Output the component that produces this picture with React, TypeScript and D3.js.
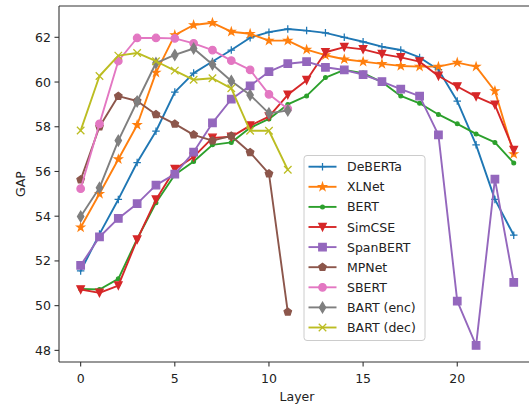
import React from "react";
import * as d3 from "d3";

const layers24 = d3.range(24);
const layers12 = d3.range(12);
const xTicks = [0, 5, 10, 15, 20];
const yTicks = [48, 50, 52, 54, 56, 58, 60, 62];

const deberta = [51.55, 53.2, 54.75, 56.4, 57.8, 59.55, 60.4, 60.92, 61.43, 61.98, 62.23, 62.37, 62.3, 62.2, 62.0, 61.8, 61.58, 61.43, 61.1, 60.55, 59.15, 57.19, 54.75, 53.15];
const xlnet = [53.5, 55.0, 56.55, 58.08, 60.42, 62.1, 62.55, 62.65, 62.25, 62.16, 61.85, 61.85, 61.45, 61.2, 61.02, 60.91, 60.81, 60.72, 60.69, 60.69, 60.87, 60.69, 59.6, 56.78];
const bert = [50.75, 50.72, 51.2, 52.98, 54.6, 55.85, 56.45, 57.19, 57.3, 57.95, 58.35, 59.0, 59.38, 60.2, 60.54, 60.4, 60.0, 59.38, 59.05, 58.55, 58.13, 57.68, 57.3, 56.38];
const simcse = [50.72, 50.57, 50.9, 52.95, 54.74, 56.1, 56.65, 57.5, 57.55, 58.05, 58.45, 59.43, 60.08, 61.33, 61.56, 61.46, 61.25, 61.1, 60.91, 60.27, 59.8, 59.35, 58.98, 56.95];
const spanbert = [51.8, 53.07, 53.9, 54.56, 55.39, 55.88, 56.87, 58.17, 59.23, 59.83, 60.46, 60.82, 60.91, 60.66, 60.54, 60.33, 60.02, 59.68, 59.37, 57.64, 50.2, 48.22, 55.66, 51.04];
const mpnet = [55.63, 58.0, 59.37, 59.15, 58.55, 58.13, 57.64, 57.38, 57.59, 56.85, 55.9, 49.72];
const sbert = [55.23, 58.13, 60.94, 61.97, 61.97, 61.95, 61.73, 61.43, 60.96, 60.54, 59.45, 58.8];
const bartEnc = [53.99, 55.27, 57.38, 59.13, 60.85, 61.21, 61.5, 60.78, 60.05, 59.42, 58.6, 58.73];
const bartDec = [57.83, 60.27, 61.18, 61.3, 60.93, 60.51, 60.1, 60.17, 59.72, 57.82, 57.82, 56.08];

const seriesNames = ["DeBERTa", "XLNet", "BERT", "SimCSE", "SpanBERT", "MPNet", "SBERT", "BART (enc)", "BART (dec)"];
const seriesValues = [deberta, xlnet, bert, simcse, spanbert, mpnet, sbert, bartEnc, bartDec];
const seriesLayers = [layers24, layers24, layers24, layers24, layers24, layers12, layers12, layers12, layers12];
const seriesColors = ["#1f77b4", "#ff7f0e", "#2ca02c", "#d62728", "#9467bd", "#8c564b", "#e377c2", "#7f7f7f", "#bcbd22"];
const seriesMarkers = ["plus", "star", "point", "tridown", "square", "pentagon", "circle", "thindiamond", "x"];

const W = 529;
const H = 405;
const L = 59;
const T = 6;
const B = 362;
const FONT = "DejaVu Sans, sans-serif";
const FS = 12.5;

const ms = 7.5;

function polygon(pts: [number, number][]) {
  return "M" + pts.map((p) => p[0].toFixed(2) + "," + p[1].toFixed(2)).join("L") + "Z";
}

function markerPath(kind: string): { d: string; filled: boolean } {
  const r = ms / 2;
  switch (kind) {
    case "plus":
      return { d: `M${-r},0H${r}M0,${-r}V${r}`, filled: false };
    case "x":
      return { d: `M${-r},${-r}L${r},${r}M${-r},${r}L${r},${-r}`, filled: false };
    case "star": {
      const pts: [number, number][] = [];
      for (let i = 0; i < 10; i++) {
        const rr = i % 2 === 0 ? r * 1.05 : r * 1.05 * 0.381966;
        const a = -Math.PI / 2 + (i * Math.PI) / 5;
        pts.push([rr * Math.cos(a), rr * Math.sin(a)]);
      }
      return { d: polygon(pts), filled: true };
    }
    case "point": {
      const pr = r * 0.5;
      return { d: `M${pr},0A${pr},${pr} 0 1,1 ${-pr},0A${pr},${pr} 0 1,1 ${pr},0Z`, filled: true };
    }
    case "circle":
      return { d: `M${r},0A${r},${r} 0 1,1 ${-r},0A${r},${r} 0 1,1 ${r},0Z`, filled: true };
    case "tridown":
      return { d: polygon([[0, r], [-r, -r], [r, -r]]), filled: true };
    case "square":
      return { d: polygon([[-r, -r], [r, -r], [r, r], [-r, r]]), filled: true };
    case "pentagon": {
      const pts: [number, number][] = [];
      for (let i = 0; i < 5; i++) {
        const a = -Math.PI / 2 + (i * 2 * Math.PI) / 5;
        pts.push([r * 1.05 * Math.cos(a), r * 1.05 * Math.sin(a)]);
      }
      return { d: polygon(pts), filled: true };
    }
    case "thindiamond": {
      const h = ms * 0.7071;
      const w = h * 0.6;
      return { d: polygon([[0, -h], [w, 0], [0, h], [-w, 0]]), filled: true };
    }
  }
  return { d: "", filled: true };
}

function Marker({ kind, color, x, y }: { kind: string; color: string; x: number; y: number }) {
  const m = markerPath(kind);
  return (
    <path
      d={m.d}
      transform={`translate(${x},${y})`}
      fill={m.filled ? color : "none"}
      stroke={color}
      strokeWidth={1.25}
      strokeLinejoin="miter"
    />
  );
}

export default function App() {
  const x = d3.scaleLinear().domain([-1.15, 24.15]).range([L, L + 25.3 * 18.83]);
  const y = d3.scaleLinear().domain([47.48, 63.4]).range([B, T]);
  const line = d3
    .line<[number, number]>()
    .x((d) => x(d[0]))
    .y((d) => y(d[1]));

  const legendX = 304;
  const legendY = 155.5;
  const legendW = 121;
  const legendH = 185;
  const rowH = 20.1;

  return (
    <svg width={W} height={H} style={{ position: "absolute", left: 0, top: 0, background: "#fff" }} fontFamily={FONT}>
      <rect x={0} y={0} width={W} height={H} fill="#fff" />
      {seriesNames.map((name, si) => {
        const pts: [number, number][] = seriesLayers[si].map((l, i) => [l, seriesValues[si][i]]);
        return (
          <g key={name}>
            <path d={line(pts) || ""} fill="none" stroke={seriesColors[si]} strokeWidth={1.9} strokeLinejoin="round" strokeLinecap="square" />
            {pts.map((p, i) => (
              <Marker key={i} kind={seriesMarkers[si]} color={seriesColors[si]} x={x(p[0])} y={y(p[1])} />
            ))}
          </g>
        );
      })}
      {/* spines */}
      <line x1={L} x2={L} y1={T} y2={B} stroke="#333" strokeWidth={1.1} />
      <line x1={L} x2={W} y1={B} y2={B} stroke="#333" strokeWidth={1.1} />
      <line x1={L} x2={W} y1={T} y2={T} stroke="#333" strokeWidth={1.1} />
      {/* x ticks */}
      {xTicks.map((t) => (
        <g key={t}>
          <line x1={x(t)} x2={x(t)} y1={B} y2={B + 4.5} stroke="#333" strokeWidth={1.1} />
          <text x={x(t)} y={B + 16} textAnchor="middle" dominantBaseline="central" fontSize={FS} fill="#222">
            {t}
          </text>
        </g>
      ))}
      {yTicks.map((t) => (
        <g key={t}>
          <line x1={L - 4.5} x2={L} y1={y(t)} y2={y(t)} stroke="#333" strokeWidth={1.1} />
          <text x={L - 8} y={y(t)} textAnchor="end" dominantBaseline="central" fontSize={FS} fill="#222">
            {t}
          </text>
        </g>
      ))}
      <text x={297} y={396} textAnchor="middle" dominantBaseline="central" fontSize={FS} fill="#222">
        Layer
      </text>
      <text transform={`translate(20.5,${(T + B) / 2}) rotate(-90)`} textAnchor="middle" dominantBaseline="central" fontSize={FS} fill="#222">
        GAP
      </text>
      {/* legend */}
      <rect x={legendX} y={legendY} width={legendW} height={legendH} rx={3} fill="#fff" fillOpacity={0.8} stroke="#cccccc" strokeWidth={1} />
      {seriesNames.map((name, si) => {
        const cy = legendY + 11.2 + si * rowH;
        return (
          <g key={name}>
            <line x1={legendX + 4.5} x2={legendX + 32.5} y1={cy} y2={cy} stroke={seriesColors[si]} strokeWidth={1.9} />
            <Marker kind={seriesMarkers[si]} color={seriesColors[si]} x={legendX + 18.5} y={cy} />
            <text x={legendX + 43} y={cy} dominantBaseline="central" fontSize={FS} fill="#222">
              {name}
            </text>
          </g>
        );
      })}
    </svg>
  );
}
